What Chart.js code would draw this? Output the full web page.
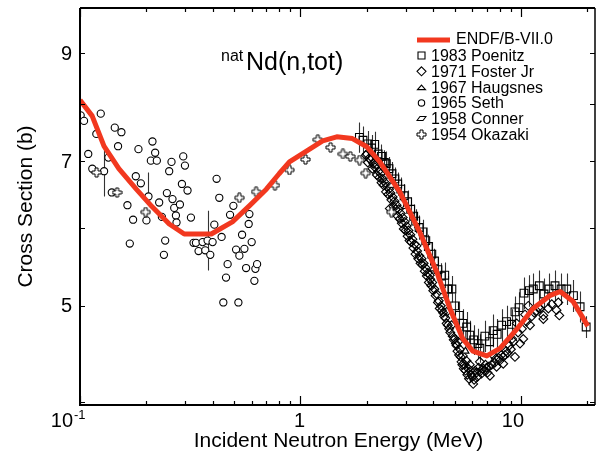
<!DOCTYPE html>
<html>
<head>
<meta charset="utf-8">
<script src="https://cdn.jsdelivr.net/npm/chart.js@4.4.1/dist/chart.umd.min.js"></script>
<style>
  body { margin: 0; background: #fff; }
  #wrap { width: 597px; height: 457px; }
</style>
</head>
<body>
<div id="wrap"><canvas id="xsChart" width="597" height="457"></canvas></div>
<script>
const FONT = '"Liberation Sans", Arial, Helvetica, sans-serif';
const RED = '#f2381f';

// Evaluated total cross section (MeV, barns)
const endfE = [0.1, 0.1135, 0.1285, 0.150, 0.180, 0.212, 0.254, 0.297, 0.394, 0.491, 0.586, 0.70, 0.80, 0.891,
  1.10, 1.26, 1.46, 1.72, 2.0, 2.29, 2.82, 3.47, 4.15, 4.76, 5.45, 6.05, 7.0, 8.03, 9.6, 11.35, 13.5, 15.05, 17.25, 20.1];
const endfXs = [8.07, 7.78, 7.25, 6.88, 6.56, 6.30, 6.05, 5.91, 5.91, 6.08, 6.31, 6.56, 6.80, 6.99,
  7.20, 7.34, 7.41, 7.38, 7.24, 6.99, 6.52, 5.94, 5.41, 4.97, 4.63, 4.50, 4.45, 4.53, 4.74, 4.97, 5.12, 5.17, 5.05, 4.77];

// 1983 Poenitz
const poenitzE = [1.85, 1.92, 2.02, 2.10, 2.17, 2.25, 2.33, 2.40, 2.45, 2.52, 2.60, 2.68, 2.76, 2.85, 2.95, 3.06, 3.16, 3.26, 3.33, 3.45,
  3.60, 3.70, 3.80, 3.94, 4.05, 4.20, 4.35, 4.51, 4.65, 4.86, 5.00, 5.25, 5.45, 5.67, 5.86, 6.10, 6.38, 6.51, 6.86, 7.20,
  7.48, 7.80, 8.17, 8.60, 9.07, 9.39, 9.80, 10.32, 10.91, 11.37, 12.11, 12.72, 13.40, 14.27, 15.20, 16.13, 17.30, 18.54, 19.75];
const poenitzXs = [7.40, 7.35, 7.29, 7.22, 7.28, 7.12, 7.08, 6.98, 6.96, 6.88, 6.80, 6.72, 6.64, 6.56, 6.46, 6.37, 6.26, 6.16, 6.09, 6.00,
  5.94, 5.82, 5.74, 5.64, 5.55, 5.44, 5.36, 5.37, 5.20, 5.20, 5.00, 4.89, 4.80, 4.76, 4.67, 4.62, 4.58, 4.53, 4.66, 4.60,
  4.72, 4.68, 4.78, 4.82, 4.79, 4.93, 4.98, 5.15, 5.18, 5.20, 5.24, 5.14, 5.20, 5.24, 5.20, 5.20, 5.12, 4.99, 4.76];
const poenitzErr = [0.26, 0.24, 0.22, 0.22, 0.22, 0.20, 0.20, 0.20, 0.20, 0.19, 0.19, 0.18, 0.18, 0.18, 0.18, 0.17, 0.17, 0.17, 0.17, 0.17,
  0.17, 0.17, 0.16, 0.16, 0.16, 0.16, 0.16, 0.16, 0.16, 0.16, 0.15, 0.16, 0.16, 0.17, 0.16, 0.16, 0.16, 0.15, 0.17, 0.16,
  0.18, 0.17, 0.18, 0.18, 0.17, 0.18, 0.18, 0.19, 0.19, 0.19, 0.19, 0.19, 0.19, 0.19, 0.19, 0.19, 0.19, 0.18, 0.12];

// 1971 Foster Jr
const fosterE = [1.98, 2.02, 2.08, 2.12, 2.18, 2.22, 2.28, 2.33, 2.38, 2.44, 2.50, 2.54, 2.58, 2.64, 2.70, 2.76, 2.82, 2.88, 2.94, 3.00,
  3.06, 3.12, 3.18, 3.25, 3.32, 3.36, 3.42, 3.50, 3.58, 3.66, 3.74, 3.82, 3.86, 3.92, 4.00, 4.10, 4.20, 4.28, 4.38, 4.48,
  4.60, 4.60, 4.72, 4.84, 4.90, 5.01, 5.10, 5.19, 5.28, 5.37, 5.45, 5.55, 5.66, 5.76, 5.86, 5.96, 6.07, 6.20, 6.35, 6.51,
  6.51, 6.74, 6.90, 7.05, 7.23, 7.47, 7.60, 7.75, 8.00, 8.31, 8.31, 8.46, 8.70, 9.00, 9.23, 9.39, 9.56, 9.90, 10.24, 10.43,
  10.79, 10.99, 11.79, 12.20, 12.63, 12.63, 13.31, 13.79, 14.50, 14.77, 14.92,
  2.00, 2.05, 2.14, 2.20, 2.26, 2.31, 2.36, 2.42, 2.47, 2.52, 2.56, 2.62, 2.67, 2.73, 2.79, 2.85, 2.91, 2.97, 3.03, 3.09,
  3.15, 3.22, 3.29, 3.38, 3.46, 3.54, 3.62, 3.70, 3.78, 3.88, 3.96, 4.05, 4.15, 4.24, 4.33, 4.43, 4.54, 4.66, 4.78, 4.95,
  5.06, 5.15, 5.24, 5.33, 5.42, 5.50, 5.60, 5.71, 5.81, 5.91, 6.02, 6.13, 6.28, 6.43, 6.62, 6.82, 6.98, 7.14, 7.35, 7.68,
  7.90, 8.15, 8.55, 8.85, 9.12, 9.70, 10.10, 10.60, 11.20, 11.50, 12.00];
const fosterXs = [7.10, 6.98, 7.02, 6.88, 6.90, 6.78, 6.74, 6.66, 6.62, 6.52, 6.48, 6.27, 6.40, 6.30, 6.26, 6.16, 6.12, 6.06, 5.98, 5.96,
  5.88, 5.82, 5.80, 5.72, 5.64, 5.75, 5.58, 5.52, 5.50, 5.42, 5.36, 5.28, 5.37, 5.24, 5.18, 5.12, 5.04, 4.97, 4.95, 4.88,
  4.93, 4.80, 4.74, 4.78, 4.66, 4.63, 4.56, 4.60, 4.52, 4.39, 4.45, 4.36, 4.40, 4.32, 4.36, 4.26, 4.17, 4.30, 4.24, 4.29,
  4.39, 4.32, 4.36, 4.28, 4.25, 4.46, 4.38, 4.34, 4.40, 4.37, 4.44, 4.46, 4.48, 4.52, 4.60, 4.44, 4.80, 4.58, 4.63, 4.90,
  5.00, 4.78, 4.94, 4.97, 4.89, 4.85, 4.97, 5.02, 4.95, 5.04, 4.89,
  7.12, 7.05, 6.96, 6.94, 6.84, 6.80, 6.72, 6.66, 6.60, 6.56, 6.50, 6.44, 6.38, 6.32, 6.26, 6.20, 6.14, 6.08, 6.02, 5.96,
  5.90, 5.84, 5.77, 5.68, 5.62, 5.58, 5.52, 5.46, 5.40, 5.32, 5.28, 5.20, 5.14, 5.06, 5.00, 4.92, 4.86, 4.78, 4.70, 4.62,
  4.58, 4.50, 4.46, 4.44, 4.36, 4.32, 4.30, 4.26, 4.22, 4.30, 4.24, 4.21, 4.28, 4.33, 4.27, 4.30, 4.33, 4.34, 4.36, 4.42,
  4.43, 4.46, 4.50, 4.56, 4.63, 4.70, 4.74, 4.82, 4.88, 4.92, 4.98];

// 1967 Haugsnes
const haugsnesE = [3.0, 4.0, 5.6];
const haugsnesXs = [6.30, 5.45, 4.50];

// 1965 Seth
const sethE = [0.1007, 0.1043, 0.109, 0.1137, 0.1186, 0.1242, 0.1286, 0.1345, 0.1394, 0.1438, 0.1488, 0.1541, 0.1641, 0.1682,
  0.1741, 0.1791, 0.1841, 0.1888, 0.2001, 0.2044, 0.2096, 0.2131, 0.2192, 0.2231, 0.2286, 0.2352, 0.2402, 0.2434, 0.2478, 0.2538,
  0.26, 0.2627, 0.2675, 0.2723, 0.274, 0.2839, 0.2899, 0.2939, 0.2992, 0.3074, 0.3185, 0.3273, 0.3356, 0.3449, 0.3597, 0.37,
  0.379, 0.3898, 0.3994, 0.4066, 0.4164, 0.4283, 0.4388, 0.4467, 0.4595, 0.4672, 0.4792, 0.4961, 0.5103, 0.5228, 0.5282,
  0.5433, 0.5566, 0.5666, 0.5821, 0.5864, 0.6006, 0.6178, 0.6243, 0.6355];
const sethXs = [7.79, 7.69, 7.12, 6.88, 7.46, 7.82, 6.84, 7.06, 6.51, 7.57, 7.25, 7.49, 6.32, 5.78,
  6.11, 6.76, 7.20, 6.65, 6.10, 6.45, 7.01, 7.33, 7.14, 7.01, 6.36, 6.15, 5.63, 5.82, 6.50, 6.84,
  6.99, 6.41, 6.28, 6.17, 6.07, 6.33, 6.64, 7.08, 6.93, 6.54, 6.14, 5.79, 5.79, 5.68, 5.80, 5.69,
  5.82, 5.63, 5.80, 6.04, 6.72, 6.43, 5.87, 5.04, 5.34, 5.51, 6.18, 6.31, 5.70, 5.04, 5.62,
  5.90, 5.71, 5.46, 6.05, 6.19, 5.80, 5.30, 5.45, 5.51];
// the few Seth points that carry an uncertainty bar
const sethBarE = [0.1286, 0.2044, 0.379];
const sethBarLo = [6.45, 6.35, 5.43];
const sethBarHi = [7.23, 6.82, 6.24];

// 1958 Conner
const connerE = [2.6, 4.4];
const connerXs = [6.62, 5.12];

// 1954 Okazaki
const okazakiE = [0.1189, 0.1473, 0.1985, 0.5282, 0.6288, 0.7658, 0.8913, 1.054, 1.198, 1.369, 1.557, 1.682, 1.854, 1.975, 2.584];
const okazakiXs = [6.82, 6.51, 6.22, 6.43, 6.52, 6.62, 6.86, 7.03, 7.36, 7.23, 7.12, 7.08, 7.02, 6.81, 6.22];

// axes
const xMajorTicks = [0.1, 1, 10];
const xMinorTicks = [0.2, 0.3, 0.4, 0.5, 0.6, 0.7, 0.8, 0.9, 2, 3, 4, 5, 6, 7, 8, 9, 20];
const xTickLabels = ['10⁻¹', '1', '10'];
const yTicks = [4, 5, 6, 7, 8, 9, 10];
const yTickLabels = ['5', '7', '9'];

const pairs = (xs, ys) => xs.map((x, i) => ({ x: x, y: ys[i] }));

// open cross marker
function plusMarker() {
  const c = document.createElement('canvas');
  c.width = 11; c.height = 11;
  const g = c.getContext('2d');
  const m = 5.5, a = 1.5, b = 4.5;
  g.beginPath();
  g.moveTo(m - a, m - b); g.lineTo(m + a, m - b); g.lineTo(m + a, m - a); g.lineTo(m + b, m - a);
  g.lineTo(m + b, m + a); g.lineTo(m + a, m + a); g.lineTo(m + a, m + b); g.lineTo(m - a, m + b);
  g.lineTo(m - a, m + a); g.lineTo(m - b, m + a); g.lineTo(m - b, m - a); g.lineTo(m - a, m - a);
  g.closePath();
  g.fillStyle = '#fff'; g.fill();
  g.lineWidth = 1; g.strokeStyle = '#000'; g.stroke();
  return c;
}

// slanted parallelogram marker
function slantMarker() {
  const c = document.createElement('canvas');
  c.width = 11; c.height = 7;
  const g = c.getContext('2d');
  g.beginPath();
  g.moveTo(4, 1.5); g.lineTo(10, 1.5); g.lineTo(7, 5.5); g.lineTo(1, 5.5);
  g.closePath();
  g.fillStyle = '#fff'; g.fill();
  g.lineWidth = 1.1; g.strokeStyle = '#000'; g.stroke();
  return c;
}

const plusImg = plusMarker();
const slantImg = slantMarker();

const legendRows = [
  { text: '1983 Poenitz', style: 'rect' },
  { text: '1971 Foster Jr', style: 'rectRot' },
  { text: '1967 Haugsnes', style: 'triangle' },
  { text: '1965 Seth', style: 'circle' },
  { text: '1958 Conner', style: slantImg },
  { text: '1954 Okazaki', style: plusImg }
];

function legendMarker(ctx, kind, x, y) {
  ctx.save();
  if (typeof kind !== 'string') {
    ctx.drawImage(kind, Math.round(x - kind.width / 2), Math.round(y - kind.height / 2));
    ctx.restore();
    return;
  }
  ctx.lineWidth = 1.1;
  ctx.strokeStyle = '#000';
  ctx.fillStyle = '#fff';
  ctx.beginPath();
  if (kind === 'rect') ctx.rect(x - 3.5, y - 3.5, 7, 7);
  else if (kind === 'rectRot') { ctx.moveTo(x, y - 4.5); ctx.lineTo(x + 4.5, y); ctx.lineTo(x, y + 4.5); ctx.lineTo(x - 4.5, y); ctx.closePath(); }
  else if (kind === 'triangle') { ctx.moveTo(x - 4, y + 2.5); ctx.lineTo(x, y - 2); ctx.lineTo(x + 4, y + 2.5); ctx.closePath(); }
  else ctx.arc(x, y, 3.2, 0, Math.PI * 2);
  ctx.fill();
  ctx.stroke();
  ctx.restore();
}

const frameAndText = {
  id: 'frameAndText',
  beforeDatasetsDraw(chart) {
    const ctx = chart.ctx, xs = chart.scales.x, ys = chart.scales.y;
    ctx.save();
    ctx.strokeStyle = '#333';
    ctx.lineWidth = 1.1;
    ctx.beginPath();
    chart.data.datasets.forEach(ds => {
      if (!ds.errors) return;
      ds.data.forEach((p, i) => {
        const e = ds.errors[i];
        const px = Math.round(xs.getPixelForValue(p.x)) + 0.5;
        ctx.moveTo(px, ys.getPixelForValue(p.y - e));
        ctx.lineTo(px, ys.getPixelForValue(p.y + e));
      });
    });
    sethBarE.forEach((e, i) => {
      const px = Math.round(xs.getPixelForValue(e)) + 0.5;
      ctx.moveTo(px, ys.getPixelForValue(sethBarLo[i]));
      ctx.lineTo(px, ys.getPixelForValue(sethBarHi[i]));
    });
    ctx.stroke();
    ctx.restore();
  },
  afterDraw(chart) {
    const ctx = chart.ctx, a = chart.chartArea;
    const xs = chart.scales.x, ys = chart.scales.y;
    ctx.save();

    // frame
    ctx.strokeStyle = '#000';
    ctx.lineWidth = 2;
    ctx.beginPath();
    ctx.moveTo(a.left, a.top); ctx.lineTo(a.left, a.bottom); ctx.lineTo(a.right, a.bottom);
    ctx.moveTo(a.left, a.top); ctx.lineTo(a.right, a.top);
    ctx.stroke();
    ctx.lineWidth = 1.5;
    ctx.beginPath();
    ctx.moveTo(a.right, a.top); ctx.lineTo(a.right, a.bottom);
    ctx.stroke();

    // inward ticks
    ctx.lineWidth = 1.2;
    ctx.beginPath();
    xs.ticks.forEach(t => {
      const px = Math.round(xs.getPixelForValue(t.value)) + 0.5;
      const len = xMajorTicks.includes(t.value) ? 9 : 4;
      ctx.moveTo(px, a.bottom); ctx.lineTo(px, a.bottom - len);
      ctx.moveTo(px, a.top); ctx.lineTo(px, a.top + len);
    });
    ys.ticks.forEach(t => {
      const py = Math.round(ys.getPixelForValue(t.value)) + 0.5;
      ctx.moveTo(a.left, py); ctx.lineTo(a.left + 5, py);
      ctx.moveTo(a.right, py); ctx.lineTo(a.right - 5, py);
    });
    ctx.stroke();

    ctx.fillStyle = '#000';

    // y tick labels
    ctx.font = '20px ' + FONT;
    ctx.textAlign = 'right';
    ctx.textBaseline = 'middle';
    yTickLabels.forEach(lbl => {
      ctx.fillText(lbl, a.left - 8, ys.getPixelForValue(Number(lbl)) + 1);
    });

    // x tick labels
    ctx.textBaseline = 'alphabetic';
    xMajorTicks.forEach((v, i) => {
      const px = xs.getPixelForValue(v);
      const lbl = xTickLabels[i];
      if (lbl.length > 2) {
        ctx.font = '20px ' + FONT;
        ctx.textAlign = 'right';
        ctx.fillText('10', px - 7, 427);
        ctx.font = '13px ' + FONT;
        ctx.textAlign = 'left';
        ctx.fillText('-1', px - 6, 419);
      } else {
        ctx.font = '20px ' + FONT;
        ctx.textAlign = 'center';
        ctx.fillText(lbl, px - (lbl.length - 1) * 7 - 1, 427);
      }
    });

    // axis titles
    ctx.font = '21px ' + FONT;
    ctx.textAlign = 'center';
    ctx.fillText('Incident Neutron Energy (MeV)', (a.left + a.right) / 2 + 1, 447);
    ctx.save();
    ctx.translate(32, (a.top + a.bottom) / 2);
    ctx.rotate(-Math.PI / 2);
    ctx.fillText('Cross Section (b)', 0, 0);
    ctx.restore();

    // reaction label
    ctx.textAlign = 'left';
    ctx.font = '16px ' + FONT;
    ctx.fillText('nat', 221, 61);
    ctx.font = '25px ' + FONT;
    ctx.fillText('Nd(n,tot)', 246, 70);

    // legend
    ctx.strokeStyle = RED;
    ctx.lineWidth = 5;
    ctx.beginPath();
    ctx.moveTo(417, 40); ctx.lineTo(450, 40);
    ctx.stroke();
    ctx.font = '16px ' + FONT;
    ctx.fillStyle = '#000';
    ctx.fillText('ENDF/B-VII.0', 456, 44);
    legendRows.forEach((r, i) => {
      const base = 61 + i * 15.8;
      legendMarker(ctx, r.style, 421.5, base - 5.5);
      ctx.fillStyle = '#000';
      ctx.font = '16px ' + FONT;
      ctx.fillText(r.text, 431, base);
    });

    ctx.restore();
  }
};

const marker = { borderColor: '#000', backgroundColor: '#fff', borderWidth: 1.1 };
const hollow = { borderColor: '#000', backgroundColor: 'rgba(255,255,255,0)', borderWidth: 1.1 };

new Chart(document.getElementById('xsChart'), {
  type: 'scatter',
  data: {
    datasets: [
      { label: 'ENDF/B-VII.0', data: pairs(endfE, endfXs), showLine: true, borderColor: RED, borderWidth: 5,
        pointRadius: 0, tension: 0, borderJoinStyle: 'round' },
      Object.assign({ label: '1954 Okazaki', data: pairs(okazakiE, okazakiXs), pointStyle: plusImg, pointRadius: 5 }, marker),
      Object.assign({ label: '1965 Seth', data: pairs(sethE, sethXs), pointStyle: 'circle', pointRadius: 3.6 }, marker),
      Object.assign({ label: '1958 Conner', data: pairs(connerE, connerXs), pointStyle: slantImg, pointRadius: 5 }, marker),
      Object.assign({ label: '1967 Haugsnes', data: pairs(haugsnesE, haugsnesXs), pointStyle: 'triangle', pointRadius: 4 }, marker),
      Object.assign({ label: '1971 Foster Jr', data: pairs(fosterE, fosterXs), pointStyle: 'rectRot', pointRadius: 4.4 }, hollow),
      Object.assign({ label: '1983 Poenitz', data: pairs(poenitzE, poenitzXs), pointStyle: 'rect', pointRadius: 5.5,
        errors: poenitzErr }, hollow)
    ]
  },
  options: {
    responsive: false,
    animation: false,
    layout: { autoPadding: false, padding: { left: 80, right: 2, top: 8, bottom: 52 } },
    plugins: { legend: { display: false }, tooltip: { enabled: false } },
    scales: {
      x: {
        type: 'logarithmic', min: 0.1, max: 21.66, display: false,
        afterBuildTicks: s => { s.ticks = xMajorTicks.concat(xMinorTicks).map(v => ({ value: v })); }
      },
      y: {
        type: 'logarithmic', min: 3.97, max: 10, display: false,
        afterBuildTicks: s => { s.ticks = yTicks.map(v => ({ value: v })); }
      }
    }
  },
  plugins: [frameAndText]
});
</script>
</body>
</html>
